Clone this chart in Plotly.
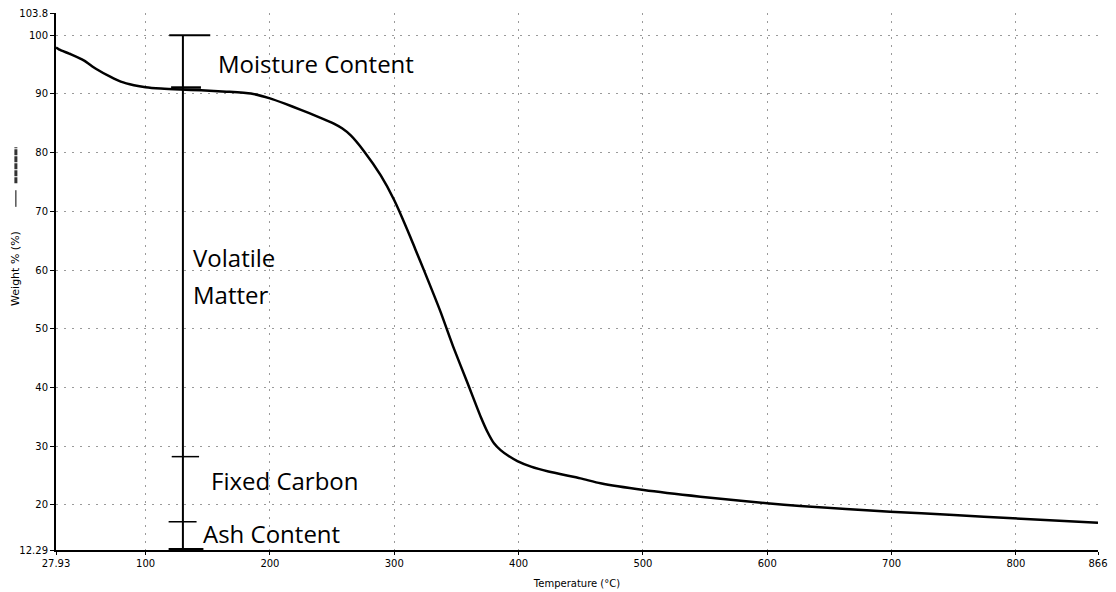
import plotly.graph_objects as go

# TGA curve: temperature (°C) vs weight (%)
temperature = [27.93, 30.2, 40.0, 50.2, 60.0, 71.9, 80.0, 90.6, 100.0, 112.3, 128.0, 144.6,
               165.0, 184.7, 200.0, 212.0, 224.9, 238.3, 251.4, 258.0, 265.0, 275.5,
               289.0, 300.0, 313.0, 317.0, 324.0, 337.0, 348.0, 359.0, 369.5, 375.0, 380.2,
               385.5, 392.0, 399.0, 410.0, 424.0, 449.8, 465.9, 500.6, 546.2, 599.8,
               626.5, 698.8, 750.0, 797.6, 866.0]
weight = [97.9, 97.6, 96.75, 95.74, 94.3, 92.9, 92.1, 91.49, 91.15, 90.92, 90.75, 90.63,
          90.4, 90.07, 89.25, 88.35, 87.3, 86.15, 84.95, 84.15, 82.95, 80.3,
          76.16, 71.9, 65.6, 63.5, 59.9, 53.0, 46.6, 40.7, 35.0, 32.4, 30.47,
          29.3, 28.3, 27.45, 26.5, 25.66, 24.5, 23.65, 22.5, 21.37, 20.25,
          19.8, 18.82, 18.25, 17.7, 16.95]

# proximate-analysis bracket
bracket_x = 130
bracket_levels = [100, 91.1, 28.2, 17.1, 12.29]
cap_left = [119, 120.5, 121, 118.5, 118.5]
cap_right = [152, 144.5, 143, 141, 146.5]

labels = ["Moisture Content", "Volatile", "Matter", "Fixed Carbon", "Ash Content"]

y_ticks = [12.29, 20, 30, 40, 50, 60, 70, 80, 90, 100, 103.8]
y_ticktext = ["12.29", "20", "30", "40", "50", "60", "70", "80", "90", "100", "103.8"]
x_ticks = [27.93, 100, 200, 300, 400, 500, 600, 700, 800, 866]
x_ticktext = ["27.93", "100", "200", "300", "400", "500", "600", "700", "800", "866"]

fig = go.Figure()

fig.add_trace(go.Scatter(x=temperature, y=weight, mode="lines",
                         line=dict(color="black", width=2.5, shape="spline", smoothing=0.6),
                         showlegend=False, hoverinfo="skip"))

# vertical bracket line
fig.add_trace(go.Scatter(x=[bracket_x, bracket_x], y=[bracket_levels[-1], bracket_levels[0]],
                         mode="lines", line=dict(color="black", width=2),
                         showlegend=False, hoverinfo="skip"))
# caps
cap_widths = [2, 2.5, 1.5, 1.5, 4]
for lvl, xl, xr, w in zip(bracket_levels, cap_left, cap_right, cap_widths):
    fig.add_trace(go.Scatter(x=[xl, xr], y=[lvl, lvl], mode="lines",
                             line=dict(color="black", width=w),
                             showlegend=False, hoverinfo="skip"))

label_x = [158.2, 138.2, 138.2, 152.6, 146.2]
label_y = [95.23, 62.1, 55.8, 24.05, 15.03]
for t, lx, ly in zip(labels, label_x, label_y):
    fig.add_annotation(x=lx, y=ly, xref="x", yref="y", text=t, showarrow=False,
                       xanchor="left", yanchor="middle", xshift=-2,
                       font=dict(family="Open Sans", size=24, color="black"))

# y-axis title (rotated) with legend sample lines
fig.add_annotation(xref="paper", yref="paper", x=-0.0395, y=0.525, text="Weight % (%)",
                   textangle=-90, showarrow=False, xanchor="center", yanchor="middle",
                   font=dict(family="DejaVu Sans", size=11, color="black"))
fig.add_shape(type="line", xref="paper", yref="paper", x0=-0.0385, x1=-0.0385,
              y0=0.639, y1=0.670, line=dict(color="black", width=1))
fig.add_shape(type="line", xref="paper", yref="paper", x0=-0.0385, x1=-0.0385,
              y0=0.683, y1=0.750, line=dict(color="#333", width=3, dash="6px,1px"))

grid_style = dict(showgrid=True, gridcolor="#9a9a9a", gridwidth=1, griddash="2px,6px")

fig.update_xaxes(range=[27.93, 866], tickmode="array", tickvals=x_ticks, ticktext=x_ticktext,
                 showline=True, linecolor="black", linewidth=2, ticks="outside", ticklen=3,
                 tickcolor="black", zeroline=False, automargin=False,
                 ticklabeloverflow="allow",
                 tickfont=dict(family="DejaVu Sans", size=10, color="black"),
                 title=dict(text="Temperature (°C)", standoff=12,
                            font=dict(family="DejaVu Sans", size=10, color="black")),
                 **grid_style)
fig.update_yaxes(range=[12.29, 103.8], tickmode="array", tickvals=y_ticks, ticktext=y_ticktext,
                 showline=True, linecolor="black", linewidth=2, ticks="outside", ticklen=4,
                 tickcolor="black", zeroline=False, automargin=False,
                 ticklabeloverflow="allow",
                 tickfont=dict(family="DejaVu Sans", size=10, color="black"),
                 **grid_style)

# page body adds an 8px offset, so the figure is sized to fit inside the window
fig.update_layout(width=1108, height=584, margin=dict(l=48, r=18, t=5, b=42),
                  plot_bgcolor="white", paper_bgcolor="white", showlegend=False)

fig.write_html("out.html")
